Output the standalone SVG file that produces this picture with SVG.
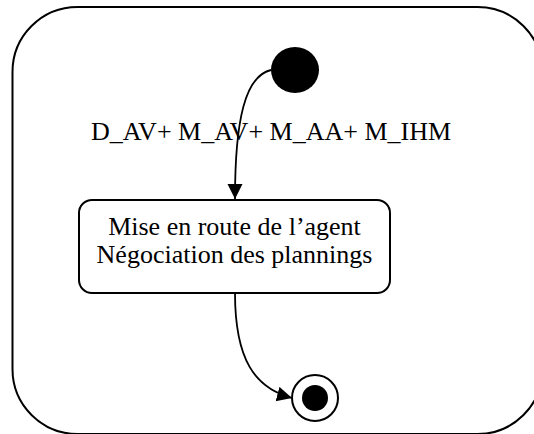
<svg xmlns="http://www.w3.org/2000/svg" width="534" height="434" viewBox="0 0 534 434">
<defs>
<style>
.frame{fill:none;stroke:#000;stroke-width:2}
.state{fill:#fff;stroke:#000;stroke-width:2}
.edge{fill:none;stroke:#000;stroke-width:1.8}
.lbl{font-family:"Liberation Serif","Times New Roman",serif;font-size:26px;fill:#000;text-anchor:middle}
</style>
<marker id="arr" markerUnits="userSpaceOnUse" markerWidth="16" markerHeight="16" refX="15" refY="7.5" orient="auto">
<path d="M0,0 L15,7.5 L0,15 z" fill="#000"/>
</marker>
</defs>
<rect width="534" height="434" fill="#fff"/>
<g id="composite">
<rect class="frame" x="12.5" y="7" width="530" height="427" rx="65" ry="65"/>
</g>
<g id="initial">
<ellipse cx="295" cy="70" rx="24" ry="23" fill="#000"/>
</g>
<g id="state1">
<rect class="state" x="79" y="200" width="311" height="93" rx="13" ry="13"/>
<text class="lbl" x="234.5" y="235">Mise en route de l’agent</text>
<text class="lbl" x="234.5" y="263">Négociation des plannings</text>
</g>
<g id="final">
<circle cx="315" cy="398" r="23" fill="#fff" stroke="#000" stroke-width="2"/>
<circle cx="315" cy="398" r="13" fill="#000"/>
</g>
<g id="connectors">
<path class="edge" d="M271,70 C245,76 235,120 235,199" marker-end="url(#arr)"/>
<text class="lbl" x="271" y="140">D_AV+ M_AV+ M_AA+ M_IHM</text>
<path class="edge" d="M235,293 C235,360 255,388 292,398" marker-end="url(#arr)"/>
</g>
</svg>
